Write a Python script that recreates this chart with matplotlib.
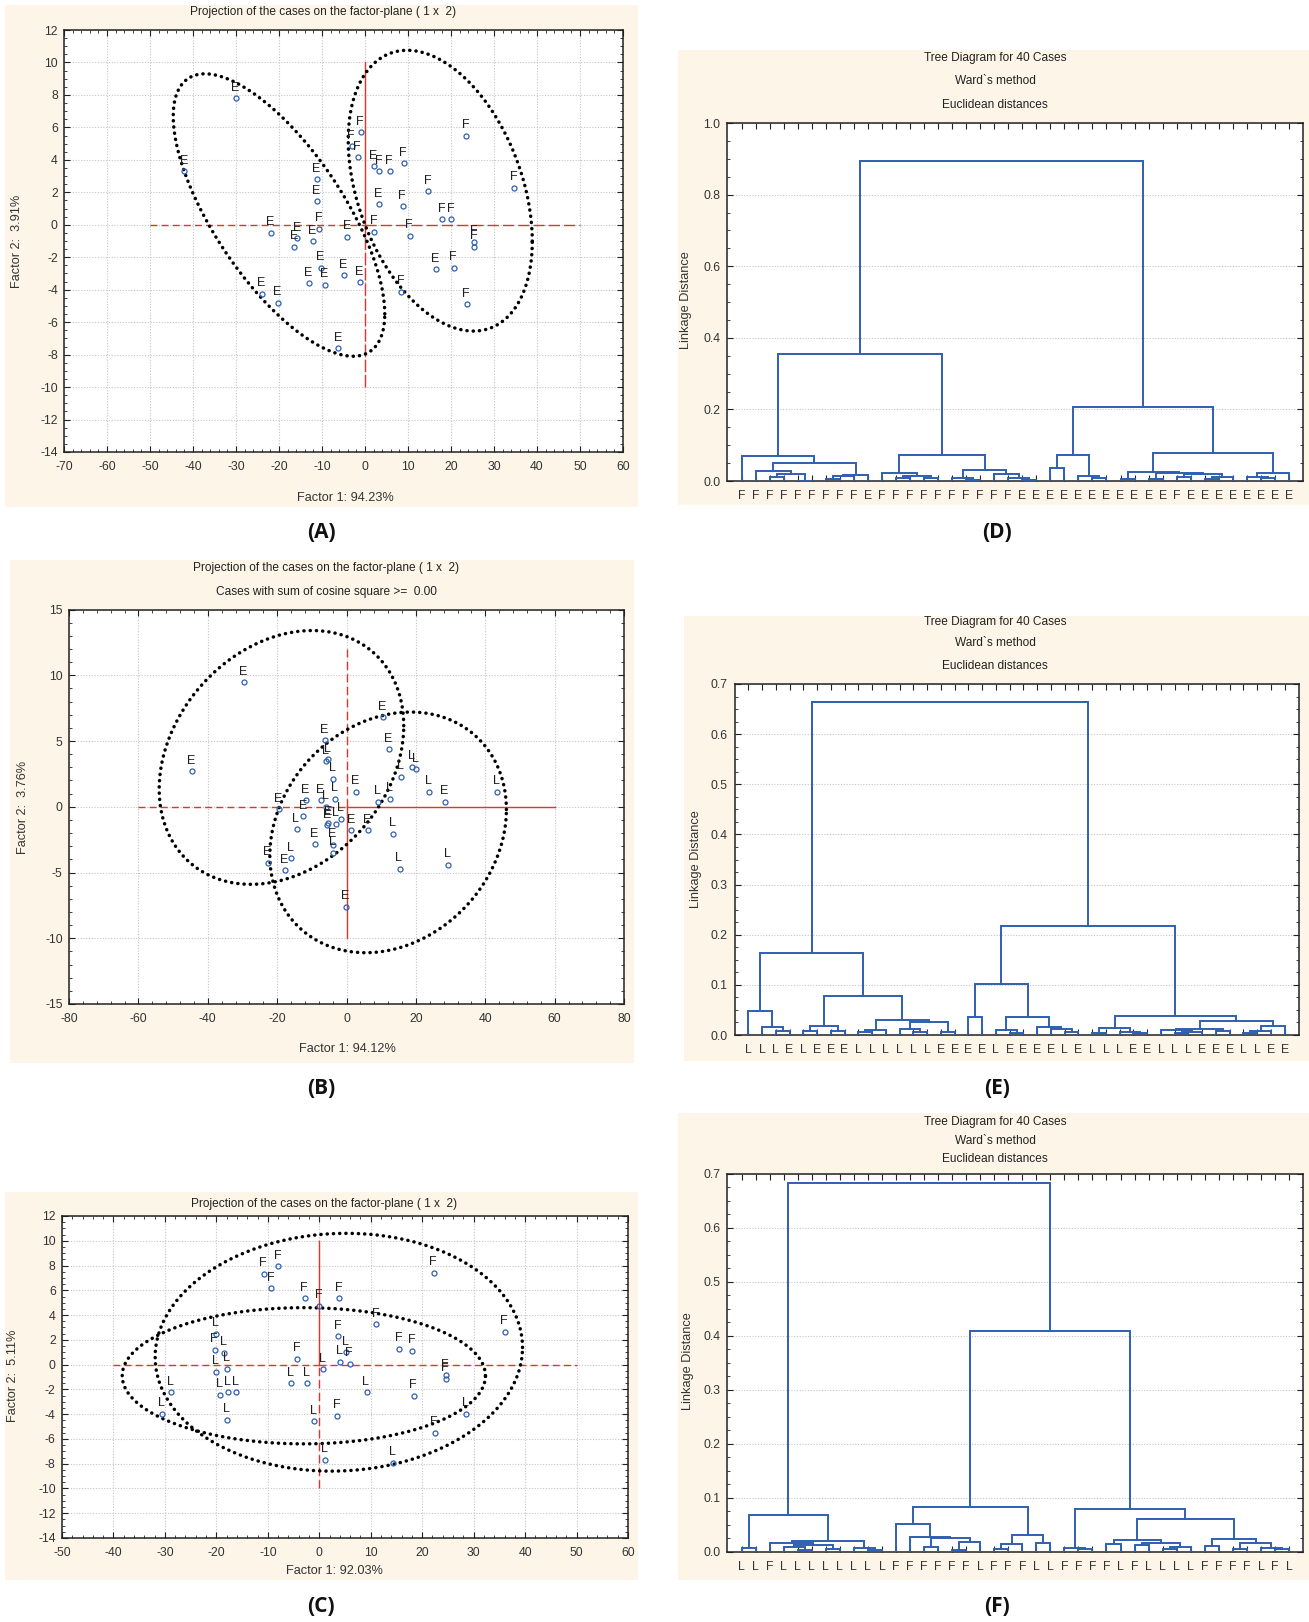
import numpy as np
import matplotlib
matplotlib.use("Agg")
import matplotlib.pyplot as plt
from matplotlib.patches import Rectangle
from matplotlib.ticker import MultipleLocator, AutoMinorLocator, FormatStrFormatter

W, H = 1309, 1622
BEIGE = "#fdf5e8"
BLUE = "#2f5fb0"
RED = "#e5332a"
GRID = "#c4c4c4"
NARROW = ["Liberation Sans Narrow", "Liberation Sans", "DejaVu Sans"]
REGULAR = ["Liberation Sans", "DejaVu Sans"]

plt.rcParams["font.family"] = NARROW
plt.rcParams["axes.unicode_minus"] = False

# ---- factor-plane scores (Factor 1, Factor 2) per group ----
A_E_X = [-30.0, -42.0, -11.2, -11.2, -21.8, -15.7, -16.4, -12.1, -4.1, -10.2,
         -13.0, -9.3, -5.0, -1.2, -24.0, -20.2, -6.2, 2.1, 3.3, 16.4]
A_E_Y = [7.8, 3.3, 2.8, 1.46, -0.5, -0.84, -1.36, -1.0, -0.74, -2.65,
         -3.6, -3.7, -3.1, -3.55, -4.25, -4.8, -7.6, 3.6, 1.25, -2.73]
A_F_X = [-10.6, -0.95, -3.1, -1.7, 3.3, 5.7, 9.0, 8.8, 14.7, 18.0,
         20.1, 2.2, 10.4, 25.4, 25.4, 20.6, 8.4, 23.7, 23.5, 34.7]
A_F_Y = [-0.23, 5.7, 4.85, 4.15, 3.3, 3.3, 3.78, 1.15, 2.07, 0.35,
         0.35, -0.43, -0.68, -1.05, -1.36, -2.65, -4.13, -4.9, 5.5, 2.28]

B_E_X = [-29.5, -44.6, 10.4, 12.2, -6.25, 2.7, 28.3, -11.8, -7.3, -19.5,
         -12.4, -9.1, -5.5, 1.4, 6.1, -3.9, -22.7, -17.7, -0.24, -5.2]
B_E_Y = [9.48, 2.71, 6.82, 4.36, 5.07, 1.14, 0.38, 0.5, 0.5, -0.2,
         -0.71, -2.83, -1.4, -1.8, -1.8, -2.9, -4.26, -4.82, -7.6, -1.2]
B_L_X = [-5.9, -5.4, -3.9, 18.9, 20.1, 15.7, 23.8, 43.3, 9.2, 12.6,
         -3.3, -14.4, -3.0, -1.5, -5.8, 13.3, -3.8, -16.0, 15.3, 29.3]
B_L_Y = [3.47, 3.6, 2.13, 3.04, 2.84, 2.28, 1.14, 1.14, 0.38, 0.61,
         0.61, -1.72, -1.3, -0.9, 0.0, -2.05, -3.5, -3.93, -4.7, -4.4]

C_F_X = [-8.0, -10.8, -9.3, -2.8, 0.0, 3.9, 22.2, 11.1, 36.0, 3.7,
         15.5, 18.1, -20.3, -4.3, 5.9, 24.6, 24.6, 18.4, 3.5, 22.4]
C_F_Y = [7.96, 7.34, 6.15, 5.34, 4.77, 5.34, 7.42, 3.26, 2.64, 2.29,
         1.29, 1.11, 1.21, 0.49, 0.08, -0.86, -1.13, -2.5, -4.13, -5.5]
C_L_X = [-20.1, -18.5, -20.1, -18.0, 4.0, 5.2, 0.7, -5.5, -2.4, 9.2,
         -28.8, -30.6, -19.3, -17.7, -16.1, -18.0, -1.0, 28.5, 1.1, 14.4]
C_L_Y = [2.48, 0.97, -0.59, -0.32, 0.22, 1.02, -0.35, -1.51, -1.51, -2.21,
         -2.21, -3.96, -2.43, -2.21, -2.21, -4.45, -4.56, -3.96, -7.69, -7.93]

# group ellipses: centre, spread along each factor, correlation
A_ELLIPSES = [(-20.0, 0.6, 24.6, 8.7, -0.70), (17.5, 2.1, 21.4, 8.65, -0.36)]
B_ELLIPSES = [(-18.75, 3.75, 35.25, 9.65, 0.25), (12.0, -1.95, 34.1, 9.15, 0.19)]
C_ELLIPSES = [(3.8, 1.0, 35.7, 9.6, 0.04), (-3.0, -0.9, 35.3, 5.5, 0.0)]

# ---- Ward clustering trees: leaf labels in plotted order, merges as (left, right, height)
# node ids >= 40 refer to earlier merges (40 + row index)
D_LEAVES = list("FFFFFFFFFEFFFFFFFFFFEEEEEEEEEEEFEEEEEEEE")
D_LINKS = [
    (4, 5, 0.001), (2, 3, 0.010), (41, 40, 0.0195), (1, 42, 0.029), (6, 7, 0.005),
    (44, 8, 0.013), (45, 9, 0.017), (43, 46, 0.050), (0, 47, 0.071), (11, 12, 0.009),
    (13, 14, 0.009), (49, 50, 0.014), (10, 51, 0.023), (16, 17, 0.003), (15, 53, 0.007),
    (20, 21, 0.004), (19, 55, 0.008), (18, 56, 0.019), (54, 57, 0.031), (52, 58, 0.074),
    (48, 59, 0.355), (22, 23, 0.037), (25, 26, 0.009), (24, 62, 0.013), (61, 63, 0.072),
    (27, 28, 0.006), (29, 30, 0.005), (31, 32, 0.012), (33, 34, 0.005), (68, 35, 0.011),
    (67, 69, 0.020), (66, 70, 0.023), (65, 71, 0.026), (37, 38, 0.008), (36, 73, 0.010),
    (74, 39, 0.022), (72, 75, 0.079), (64, 76, 0.208), (60, 77, 0.893),
]

E_LEAVES = list("LLLELEEELLLLLLEEEELEEEELELLLEELLLEEELLEE")
E_LINKS = [
    (2, 3, 0.008), (1, 40, 0.015), (0, 41, 0.047), (4, 5, 0.007), (6, 7, 0.007),
    (43, 44, 0.017), (8, 9, 0.005), (46, 10, 0.009), (12, 13, 0.005), (11, 48, 0.011),
    (14, 15, 0.005), (49, 50, 0.025), (47, 51, 0.030), (45, 52, 0.078), (42, 53, 0.164),
    (16, 17, 0.036), (19, 20, 0.003), (18, 56, 0.009), (23, 24, 0.005), (22, 58, 0.011),
    (21, 59, 0.015), (57, 60, 0.035), (55, 61, 0.102), (25, 26, 0.003), (28, 29, 0.004),
    (27, 64, 0.006), (63, 65, 0.013), (31, 32, 0.003), (67, 33, 0.006), (30, 68, 0.009),
    (34, 35, 0.008), (69, 70, 0.012), (36, 37, 0.004), (72, 38, 0.007), (73, 39, 0.0186),
    (71, 74, 0.0286), (66, 75, 0.0386), (62, 76, 0.217), (54, 77, 0.664),
]

F_LEAVES = list("LLFLLLLLLLLFFFFFFLFFFLLFFFFLFLLLLFFFFLFL")
F_LINKS = [
    (0, 1, 0.007), (4, 5, 0.003), (3, 41, 0.009), (6, 7, 0.005), (42, 43, 0.013),
    (2, 44, 0.016), (9, 10, 0.004), (8, 46, 0.008), (45, 47, 0.0205), (40, 48, 0.069),
    (13, 14, 0.010), (15, 16, 0.003), (51, 17, 0.0185), (50, 52, 0.025), (12, 53, 0.028),
    (11, 54, 0.0524), (18, 19, 0.005), (56, 20, 0.014), (21, 22, 0.017), (57, 58, 0.031),
    (55, 59, 0.084), (24, 25, 0.005), (23, 61, 0.008), (26, 27, 0.014), (28, 29, 0.0123),
    (30, 31, 0.0055), (65, 32, 0.010), (64, 66, 0.0166), (63, 67, 0.022), (33, 34, 0.011),
    (35, 36, 0.006), (38, 39, 0.005), (37, 71, 0.008), (70, 72, 0.016), (69, 73, 0.0247),
    (68, 74, 0.0617), (62, 75, 0.079), (60, 76, 0.409), (49, 77, 0.683),
]

PROJ_TITLE = "Projection of the cases on the factor-plane ( 1 x  2)"
TREE_TITLES = ["Tree Diagram for 40 Cases", "Ward`s method", "Euclidean distances"]


fig = plt.figure(figsize=(W / 100, H / 100), dpi=100)


def fx(x):
    return x / W


def fy(y):
    return 1 - y / H


def panel_bg(left, top, right, bottom):
    fig.patches.append(Rectangle((fx(left), fy(bottom)), (right - left) / W, (bottom - top) / H,
                                 transform=fig.transFigure, facecolor=BEIGE,
                                 edgecolor="none", zorder=-5))


def axes_px(left, top, right, bottom):
    ax = fig.add_axes([fx(left), fy(bottom), (right - left) / W, (bottom - top) / H])
    ax.set_facecolor("white")
    for s in ax.spines.values():
        s.set_linewidth(1.1)
        s.set_color("#222222")
    return ax


def text_px(x, y, s, **kw):
    kw.setdefault("ha", "center")
    kw.setdefault("va", "center")
    fig.text(fx(x), fy(y), s, **kw)


def style_ticks(ax, xpad, ypad):
    ax.tick_params(which="both", direction="in", top=True, right=True, colors="#222222",
                   labelcolor="#333333", labelsize=8.8)
    ax.tick_params(which="major", length=4, width=0.8)
    ax.tick_params(which="minor", length=2, width=0.6)
    ax.tick_params(axis="x", pad=xpad)
    ax.tick_params(axis="y", pad=ypad)


def draw_ellipse(ax, cx, cy, sx, sy, rho):
    t = np.linspace(0, 2 * np.pi, 500)
    x = cx + sx * np.cos(t)
    y = cy + sy * (rho * np.cos(t) + np.sqrt(1 - rho ** 2) * np.sin(t))
    ax.plot(x, y, color="black", lw=2.5, linestyle=(0, (0.05, 1.75)),
            dash_capstyle="round", zorder=4)


def draw_cases(ax, xs, ys, letter):
    ax.plot(xs, ys, "o", ms=3.6, mfc="none", mec=BLUE, mew=0.9, zorder=5)
    for x, y in zip(xs, ys):
        ax.annotate(letter, (x, y), xytext=(-0.5, 3.2), textcoords="offset points",
                    ha="center", va="bottom", fontsize=9, color="#1e1e1e",
                    family=REGULAR, zorder=6)


def scatter_panel(box, xlim, ylim, xstep, ystep, xminor, yminor):
    ax = axes_px(*box)
    ax.set_xlim(*xlim)
    ax.set_ylim(*ylim)
    ax.xaxis.set_major_locator(MultipleLocator(xstep))
    ax.yaxis.set_major_locator(MultipleLocator(ystep))
    ax.xaxis.set_minor_locator(AutoMinorLocator(xminor))
    ax.yaxis.set_minor_locator(AutoMinorLocator(yminor))
    ax.grid(True, which="major", color=GRID, lw=0.8, linestyle=(0, (1, 1.5)))
    ax.set_axisbelow(True)
    style_ticks(ax, 6.5, 4.5)
    return ax


def cross(ax, xspan, yspan, styles):
    # styles: left, right, top, bottom segment linestyles
    l, r, t, b = styles
    ax.plot([xspan[0], 0], [0, 0], color=RED, lw=1.0, linestyle=l, zorder=3)
    ax.plot([0, xspan[1]], [0, 0], color=RED, lw=1.0, linestyle=r, zorder=3)
    ax.plot([0, 0], [0, yspan[1]], color=RED, lw=1.0, linestyle=t, zorder=3)
    ax.plot([0, 0], [yspan[0], 0], color=RED, lw=1.0, linestyle=b, zorder=3)


def tree_panel(box, leaves, links, ymax, ystep):
    ax = axes_px(*box)
    n = len(leaves)
    xs = list(range(n))
    hs = [0.0] * n
    for a, b, h in links:
        ax.plot([xs[a], xs[a], xs[b], xs[b]], [hs[a], h, h, hs[b]],
                color=BLUE, lw=1.4, solid_joinstyle="miter", zorder=3)
        xs.append((xs[a] + xs[b]) / 2)
        hs.append(h)
    ax.set_xlim(-1, n)
    ax.set_ylim(0, ymax)
    ax.set_xticks(range(n))
    ax.set_xticklabels(leaves, family=REGULAR, fontsize=8.8)
    ax.xaxis.set_minor_locator(plt.NullLocator())
    ax.yaxis.set_major_locator(MultipleLocator(ystep))
    ax.yaxis.set_minor_locator(AutoMinorLocator(4))
    ax.yaxis.set_major_formatter(FormatStrFormatter("%.1f"))
    ax.grid(True, axis="y", which="major", color=GRID, lw=0.8, linestyle=(0, (1, 1.5)))
    ax.set_axisbelow(True)
    style_ticks(ax, 6.5, 5)
    return ax


label_kw = dict(fontsize=15, weight="bold", family=["Open Sans", "DejaVu Sans"], color="#111111")
title_kw = dict(fontsize=8.6, color="#222222")
ylab_kw = dict(fontsize=9.2, family=REGULAR, color="#333333", rotation=90)
xlab_kw = dict(fontsize=9.2, color="#333333")

# (A) fish vs eel scores
panel_bg(5, 5, 638, 507)
ax = scatter_panel((64, 30, 623, 452), (-70, 60), (-14, 12), 10, 2, 5, 4)
cross(ax, (-50, 50), (-10, 10), ((0, (5, 3)), (0, (8, 3)), "-", (0, (9, 2))))
for p in A_ELLIPSES:
    draw_ellipse(ax, *p)
draw_cases(ax, A_E_X, A_E_Y, "E")
draw_cases(ax, A_F_X, A_F_Y, "F")
text_px(323, 12.5, PROJ_TITLE, **title_kw)
text_px(17.5, 241, "Factor 2:  3.91%", **ylab_kw)
text_px(345, 498, "Factor 1: 94.23%", **xlab_kw)
text_px(321, 533, "(A)", **label_kw)

# (B)
panel_bg(10, 560, 634, 1063)
ax = scatter_panel((69, 609.5, 624, 1004), (-80, 80), (-15, 15), 20, 5, 5, 5)
cross(ax, (-60, 60), (-10, 12), ((0, (5, 3)), "-", (0, (6, 3)), "-"))
for p in B_ELLIPSES:
    draw_ellipse(ax, *p)
draw_cases(ax, B_E_X, B_E_Y, "E")
draw_cases(ax, B_L_X, B_L_Y, "L")
text_px(326, 568, PROJ_TITLE, **title_kw)
text_px(326, 592, "Cases with sum of cosine square >=  0.00", **title_kw)
text_px(23, 807, "Factor 2:  3.76%", **ylab_kw)
text_px(347, 1049, "Factor 1: 94.12%", **xlab_kw)
text_px(321, 1088, "(B)", **label_kw)

# (C)
panel_bg(5, 1192, 638, 1580)
ax = scatter_panel((62, 1216, 628, 1538), (-50, 60), (-14, 12), 10, 2, 5, 4)
cross(ax, (-40, 50), (-10, 10), ((0, (5, 3)), (0, (5, 3)), "-", (0, (6, 3))))
for p in C_ELLIPSES:
    draw_ellipse(ax, *p)
draw_cases(ax, C_F_X, C_F_Y, "F")
draw_cases(ax, C_L_X, C_L_Y, "L")
text_px(324, 1203.5, PROJ_TITLE, **title_kw)
text_px(13.5, 1376, "Factor 2:  5.11%", **ylab_kw)
text_px(334, 1571, "Factor 1: 92.03%", **xlab_kw)
text_px(321, 1606, "(C)", **label_kw)

# (D) (E) (F) Ward trees
tree_specs = [
    ((678, 50, 1309, 505), (727.5, 123, 1303, 481), D_LEAVES, D_LINKS, 1.0, 0.2,
     (58, 81.5, 104.5), 686, 300, "(D)", 533),
    ((684, 616, 1309, 1061), (734.5, 684, 1298.5, 1035), E_LEAVES, E_LINKS, 0.7, 0.1,
     (622, 643.5, 666.5), 696, 859, "(E)", 1088),
    ((678, 1113, 1309, 1580), (727.5, 1173.5, 1303, 1552), F_LEAVES, F_LINKS, 0.7, 0.1,
     (1121.5, 1140.5, 1159), 688, 1361, "(F)", 1606),
]
for bg, box, leaves, links, ymax, ystep, title_ys, ylab_x, ylab_y, tag, tag_y in tree_specs:
    panel_bg(*bg)
    tree_panel(box, leaves, links, ymax, ystep)
    for s, ty in zip(TREE_TITLES, title_ys):
        text_px(995, ty, s, **title_kw)
    text_px(ylab_x, ylab_y, "Linkage Distance", **ylab_kw)
    text_px(997, tag_y, tag, **label_kw)

fig.savefig("out.png", dpi=100, facecolor="white")
